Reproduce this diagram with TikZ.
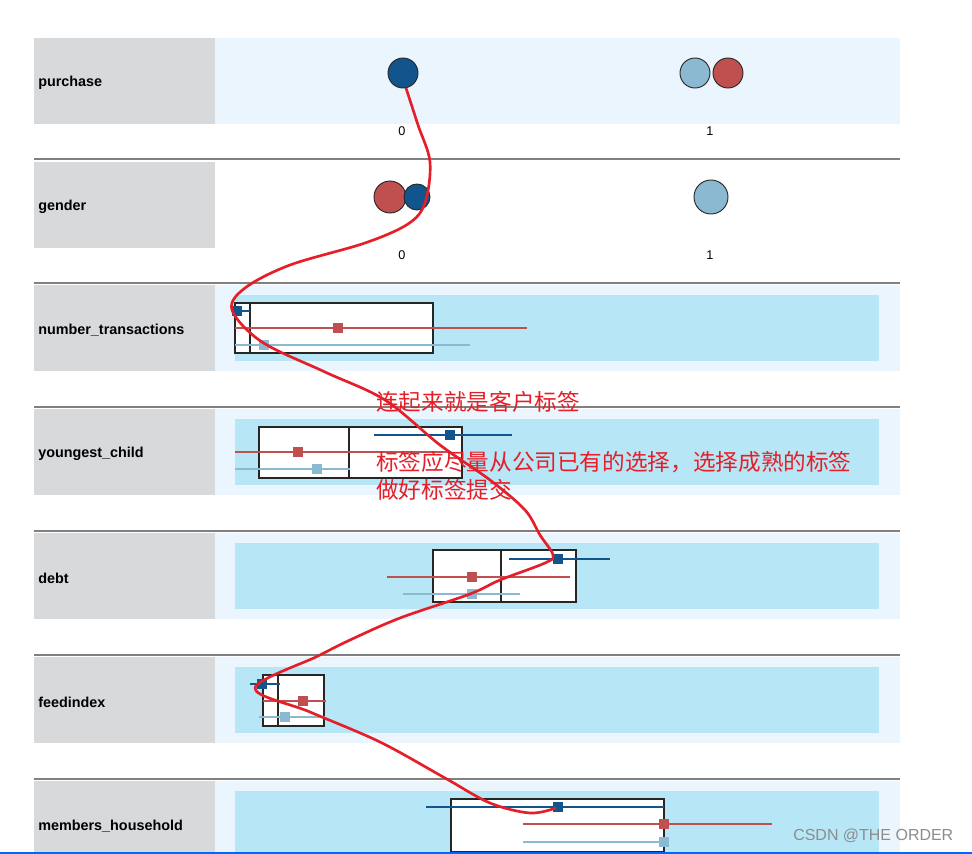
\documentclass[tikz,border=0pt]{standalone}
\usepackage{fontspec}
\setmainfont{Liberation Sans}
\newfontfamily\cjk{Noto Sans CJK SC}
\usetikzlibrary{arrows,backgrounds}
\definecolor{bandblue}{RGB}{234,245,253}
\definecolor{cyanband}{RGB}{183,231,246}
\definecolor{labgray}{RGB}{216,217,219}
\definecolor{darkb}{RGB}{18,84,140}
\definecolor{lightb}{RGB}{140,185,210}
\definecolor{redc}{RGB}{192,80,80}
\definecolor{pen}{RGB}{230,30,40}
\begin{document}
\begin{tikzpicture}[x=0.0264cm,y=-0.0264cm]
\tikzstyle{lab} = [fill=labgray, minimum width=181*0.0264cm, minimum height=86*0.0264cm,
inner sep=4pt, text width=173*0.0264cm, align=left, font=\fontsize{10.8}{12}\selectfont\bfseries]
\tikzstyle{labtext} = [anchor=west, inner sep=0pt, font=\fontsize{10.8}{12}\selectfont\bfseries]
\tikzstyle{tick} = [font=\fontsize{9.5}{11}\selectfont]
\tikzstyle{sep} = [draw=gray, line width=2.2pt]
\tikzstyle{bx} = [draw=black!85, line width=0.9pt]
\tikzstyle{dot} = [circle, draw=black!85, line width=0.7pt, minimum size=30*0.0264cm, inner sep=0pt]
\tikzstyle{mk} = [rectangle, minimum size=10*0.0264cm, inner sep=0pt]
\tikzstyle{note} = [anchor=west, text=pen, font=\cjk\fontsize{17}{20}\selectfont, inner sep=0pt]
\useasboundingbox (0,0) rectangle (972,854);
\fill[white] (0,0) rectangle (972,854);
% bands
\fill[bandblue] (215,38) rectangle (900,124);
\foreach \y in {285,409,533,657,781} {
  \fill[bandblue] (215,\y) rectangle (900,\y+86);
  \fill[cyanband] (235,\y+10) rectangle (879,\y+76);
}
\foreach \y in {159,283,407,531,655,779}
  \draw[sep] (34,\y) -- (900,\y);
% labels
\foreach \y/\name/\txt in {38/lpur/purchase, 162/lgen/gender, 285/lnum/number\_transactions,
  409/lyou/youngest\_child, 533/ldeb/debt, 657/lfee/feedindex, 781/lmem/members\_household} {
  \fill[labgray] (34,\y) rectangle (215,\y+86);
  \node[labtext] (\name) at (38,\y+45) {\txt};
}
% purchase / gender
\node[dot, fill=darkb] (p0) at (403,73) {};
\node[dot, fill=lightb] (p1a) at (695,73) {};
\node[dot, fill=redc] (p1b) at (728,73) {};
\node[tick] (tp0) at (402,131) {0};
\node[tick] (tp1) at (710,131) {1};
\node[dot, fill=redc, minimum size=32*0.0264cm] (g0a) at (390,197) {};
\node[dot, fill=darkb, minimum size=26*0.0264cm] (g0b) at (417,197) {};
\node[dot, fill=lightb, minimum size=34*0.0264cm] (g1) at (711,197) {};
\node[tick] (tg0) at (402,255) {0};
\node[tick] (tg1) at (710,255) {1};
% number_transactions
\draw[bx, fill=white] (235,303) rectangle (433,353); \draw[bx] (250,303) -- (250,353);
\draw[darkb, thick] (235,311) -- (250,311); \node[mk, fill=darkb] (n1) at (237,311) {};
\draw[redc, thick] (235,328) -- (527,328); \node[mk, fill=redc] (n2) at (338,328) {};
\draw[lightb, thick] (235,345) -- (470,345); \node[mk, fill=lightb] (n3) at (264,345) {};
% youngest_child
\draw[bx, fill=white] (259,427) rectangle (462,478); \draw[bx] (349,427) -- (349,478);
\draw[darkb, thick] (374,435) -- (512,435); \node[mk, fill=darkb] (y1) at (450,435) {};
\draw[redc, thick] (235,452) -- (450,452); \node[mk, fill=redc] (y2) at (298,452) {};
\draw[lightb, thick] (235,469) -- (350,469); \node[mk, fill=lightb] (y3) at (317,469) {};
% debt
\draw[bx, fill=white] (433,550) rectangle (576,602); \draw[bx] (501,550) -- (501,602);
\draw[darkb, thick] (509,559) -- (610,559); \node[mk, fill=darkb] (d1) at (558,559) {};
\draw[redc, thick] (387,577) -- (570,577); \node[mk, fill=redc] (d2) at (472,577) {};
\draw[lightb, thick] (403,594) -- (520,594); \node[mk, fill=lightb] (d3) at (472,594) {};
% feedindex
\draw[bx, fill=white] (263,675) rectangle (324,726); \draw[bx] (278,675) -- (278,726);
\draw[darkb, thick] (250,684) -- (280,684); \node[mk, fill=darkb] (f1) at (262,684) {};
\draw[redc, thick] (263,701) -- (326,701); \node[mk, fill=redc] (f2) at (303,701) {};
\draw[lightb, thick] (259,717) -- (325,717); \node[mk, fill=lightb] (f3) at (285,717) {};
% members_household
\draw[bx, fill=white] (451,799) rectangle (664,852);
\draw[darkb, thick] (426,807) -- (664,807); \node[mk, fill=darkb] (m1) at (558,807) {};
\draw[redc, thick] (523,824) -- (772,824); \node[mk, fill=redc] (m2) at (664,824) {};
\draw[lightb, thick] (523,842) -- (664,842); \node[mk, fill=lightb] (m3) at (664,842) {};
\draw[blue!60!cyan, line width=1pt] (0,853) -- (972,853);
% hand drawn line
\draw[pen, line width=2pt, line join=round] plot[smooth, tension=0.55] coordinates {
 (406,88) (418,125) (430,162) (425,203) (408,224) (365,243) (290,265) (245,288)
 (232,310) (262,342) (325,372) (385,400) (440,445) (490,480) (525,510) (540,535)
 (553,555) (545,563) (500,580) (470,594) (400,618) (350,640) (318,656) (255,688)
 (310,712) (380,742) (445,778) (490,803) (530,813) (556,808)};
% notes
\node[note] (t1) at (376,402) {连起来就是客户标签};
\node[note] (t2) at (376,462) {标签应尽量从公司已有的选择，选择成熟的标签};
\node[note] (t3) at (376,490) {做好标签提交};
\node[text=black!45, font=\fontsize{12}{14}\selectfont, anchor=east] (wm) at (958,836) {CSDN @THE ORDER};
\end{tikzpicture}
\end{document}
